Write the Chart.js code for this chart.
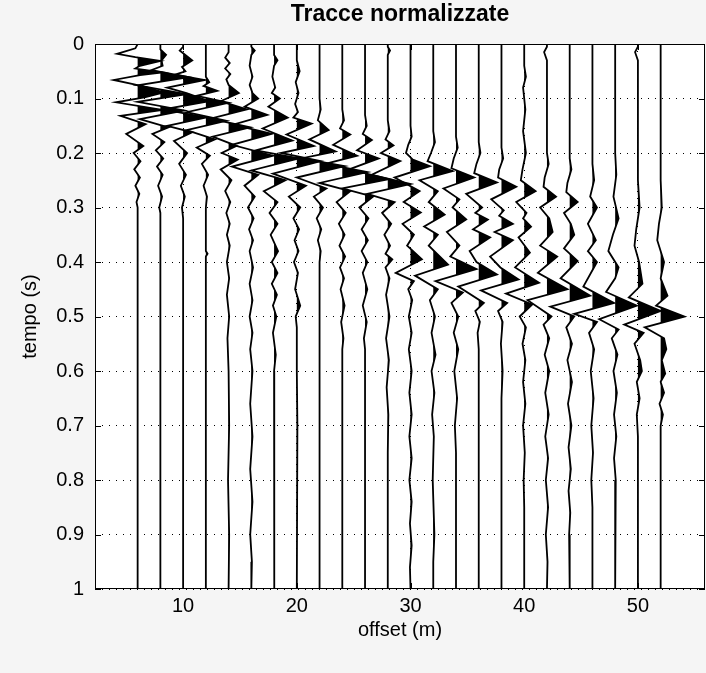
<!DOCTYPE html>
<html>
<head>
<meta charset="utf-8">
<script src="https://cdn.jsdelivr.net/npm/chart.js@4/dist/chart.umd.min.js"></script>
<style>
  html, body { margin: 0; padding: 0; background: #f5f5f5; }
</style>
</head>
<body>
<canvas id="myChart" width="706" height="673"></canvas>
<script>
'use strict';

// offsets of the traces (m)
var offsets = [6, 8, 10, 12, 14, 16, 18, 20, 22, 24, 26, 28, 30, 32, 34, 36, 38, 40, 42, 44, 46, 48, 50, 52];

var xTicks = [10, 20, 30, 40, 50];
var yTicks = [0, 0.1, 0.2, 0.3, 0.4, 0.5, 0.6, 0.7, 0.8, 0.9, 1];
var yTickLabels = ['0', '0.1', '0.2', '0.3', '0.4', '0.5', '0.6', '0.7', '0.8', '0.9', '1'];

// each trace: [tempo (s), normalized amplitude (m of offset)]
var tr06 = [[0,0],[0.008,-0.2],[0.018,-1.8],[0.024,-0.2],[0.031,2.0],[0.04,0.2],[0.045,-0.2],[0.052,2.2],[0.057,0.2],[0.066,-2.1],[0.074,-0.3],[0.08,0.9],[0.089,2.3],[0.098,0.6],[0.107,-1.9],[0.121,2.2],[0.132,-1.5],[0.147,0.7],[0.165,-1.0],[0.187,0.5],[0.2,-0.35],[0.215,0.25],[0.23,-0.3],[0.245,0.2],[0.26,-0.2],[0.275,0.15],[0.29,-0.1],[0.3,0],[1,0]];
var tr08 = [[0,0],[0.01,0],[0.02,0.5],[0.03,0.1],[0.04,0.2],[0.048,-0.8],[0.061,2.5],[0.076,-2.0],[0.092,2.3],[0.106,-2.0],[0.122,2.1],[0.138,-1.8],[0.153,0.7],[0.165,-0.7],[0.18,0.35],[0.195,-0.4],[0.21,0.25],[0.225,-0.3],[0.24,0.2],[0.26,-0.2],[0.28,0.15],[0.3,-0.1],[0.31,0],[1,0]];
var tr10 = [[0,0],[0.005,0],[0.012,-0.3],[0.03,0.8],[0.042,-0.1],[0.05,0.2],[0.056,-0.7],[0.066,1.9],[0.08,-1.4],[0.09,0.3],[0.105,2.3],[0.12,-1.7],[0.135,2.0],[0.15,-1.4],[0.162,0.8],[0.178,-0.8],[0.2,0.35],[0.22,-0.35],[0.24,0.25],[0.26,-0.2],[0.28,0.15],[0.3,-0.1],[0.32,0],[1,0]];
var tr12 = [[0,0],[0.06,0],[0.07,0.3],[0.077,-0.2],[0.086,1.0],[0.095,-0.8],[0.108,2.0],[0.125,-1.7],[0.141,1.8],[0.158,-1.7],[0.175,0.8],[0.19,-0.8],[0.205,0.35],[0.22,-0.35],[0.24,0.2],[0.26,-0.2],[0.28,0.1],[0.3,0],[0.38,0],[0.385,0.15],[0.39,0],[1,0]];
var tr14 = [[0,0],[0.015,0],[0.025,-0.3],[0.035,0.1],[0.045,-0.3],[0.055,0.15],[0.065,-0.2],[0.075,0],[0.09,0.9],[0.105,-0.7],[0.12,1.6],[0.137,-1.6],[0.153,1.9],[0.17,-1.4],[0.187,0.7],[0.2,-0.6],[0.212,0.8],[0.23,-0.7],[0.25,0.25],[0.27,-0.3],[0.29,0.15],[0.31,-0.2],[0.33,0.1],[0.35,-0.15],[0.37,0.1],[0.4,-0.15],[0.43,0.05],[0.46,-0.15],[0.5,0.05],[0.54,-0.1],[0.6,0],[0.7,0.05],[0.8,-0.05],[0.9,0.05],[1,0]];
var tr16 = [[0,0],[0.005,0],[0.012,0.3],[0.02,0],[0.04,-0.15],[0.06,0.1],[0.075,-0.15],[0.09,0.1],[0.1,0.6],[0.115,-0.6],[0.13,1.4],[0.148,-1.6],[0.165,1.8],[0.185,-1.7],[0.205,1.9],[0.225,-1.7],[0.24,0.6],[0.26,-0.6],[0.28,0.3],[0.3,-0.3],[0.32,0.2],[0.34,-0.2],[0.36,0.15],[0.38,-0.15],[0.41,0.15],[0.44,-0.15],[0.47,0.1],[0.5,-0.15],[0.53,0.1],[0.56,-0.1],[0.6,0.1],[0.66,-0.1],[0.72,0.1],[0.78,-0.1],[0.84,0.1],[0.9,-0.1],[0.95,0.05],[1,0]];
var tr18 = [[0,0],[0.02,0],[0.03,0.3],[0.04,0],[0.06,-0.15],[0.08,0.1],[0.09,-0.2],[0.1,0.5],[0.115,-0.5],[0.135,1.2],[0.155,-1.0],[0.177,1.6],[0.195,-1.6],[0.21,2.2],[0.232,-2.0],[0.25,1.0],[0.27,-0.9],[0.29,0.3],[0.31,-0.4],[0.33,0.3],[0.35,-0.3],[0.38,0.35],[0.4,-0.2],[0.42,0.3],[0.44,-0.2],[0.46,0.25],[0.48,-0.1],[0.5,0.2],[0.53,-0.1],[0.57,0.15],[0.6,0],[0.7,0.05],[0.8,0],[1,0]];
var tr20 = [[0,0],[0.03,0],[0.05,0.25],[0.07,-0.1],[0.09,0.15],[0.11,-0.15],[0.125,0.1],[0.135,-0.3],[0.146,1.3],[0.166,-0.9],[0.187,1.5],[0.2,-1.4],[0.215,2.1],[0.238,-2.1],[0.26,0.8],[0.28,-0.7],[0.3,0.3],[0.32,-0.3],[0.34,0.2],[0.36,-0.2],[0.38,0.15],[0.4,-0.25],[0.42,0.1],[0.45,-0.15],[0.48,0.3],[0.5,-0.1],[0.52,0],[0.6,0],[0.7,0.05],[1,0]];
var tr22 = [[0,0],[0.1,0],[0.12,0.1],[0.14,-0.15],[0.158,0.8],[0.175,-0.9],[0.197,1.4],[0.21,-1.6],[0.224,2.2],[0.245,-2.0],[0.265,0.6],[0.28,-0.5],[0.3,0.3],[0.32,-0.25],[0.34,0.15],[0.36,-0.15],[0.38,0.1],[0.4,0],[1,0]];
var tr24 = [[0,0],[0.12,0],[0.14,0.15],[0.155,-0.2],[0.166,0.7],[0.185,-0.8],[0.205,1.3],[0.22,-1.5],[0.235,2.2],[0.255,-2.0],[0.27,0.7],[0.29,-0.5],[0.31,0.3],[0.33,-0.3],[0.35,0.2],[0.37,-0.25],[0.39,0.25],[0.41,-0.2],[0.43,0.15],[0.45,-0.15],[0.48,0.2],[0.51,-0.1],[0.54,0.1],[0.56,0],[1,0]];
var tr26 = [[0,0],[0.13,0],[0.15,0.15],[0.165,-0.2],[0.176,0.6],[0.195,-0.7],[0.21,1.2],[0.23,-1.4],[0.248,2.1],[0.265,-2.0],[0.28,0.7],[0.3,-0.5],[0.32,0.3],[0.34,-0.3],[0.36,0.25],[0.38,-0.3],[0.4,0.2],[0.42,-0.2],[0.45,0.2],[0.48,-0.2],[0.51,0.15],[0.54,-0.1],[0.56,0],[1,0]];
var tr28 = [[0,0],[0.005,0],[0.012,0.2],[0.02,0],[0.14,0],[0.16,0.15],[0.175,-0.2],[0.186,0.5],[0.2,-0.6],[0.215,1.1],[0.24,-1.4],[0.257,2.0],[0.275,-1.8],[0.29,0.6],[0.31,-0.5],[0.33,0.3],[0.35,-0.3],[0.37,0.2],[0.385,-0.2],[0.395,0.4],[0.41,-0.2],[0.43,0.15],[0.46,-0.15],[0.5,0.15],[0.54,-0.15],[0.58,0.1],[0.63,-0.1],[0.68,0.05],[0.75,0],[1,0]];
var tr30 = [[0,0],[0.15,0],[0.17,0.1],[0.185,-0.2],[0.2,-0.4],[0.212,0.2],[0.224,1.7],[0.245,-1.4],[0.27,0.8],[0.29,-0.6],[0.309,0.9],[0.33,-0.7],[0.35,0.3],[0.37,-0.3],[0.395,1.0],[0.42,-1.3],[0.435,0.3],[0.45,-0.2],[0.47,0.15],[0.5,-0.15],[0.53,0.1],[0.56,-0.15],[0.6,0.1],[0.64,-0.1],[0.68,0.1],[0.72,-0.1],[0.76,0.1],[0.8,-0.1],[0.84,0.1],[0.88,-0.05],[0.92,0.1],[0.96,-0.05],[1,0]];
var tr32 = [[0,0],[0.16,0],[0.18,0.15],[0.2,-0.2],[0.215,-0.5],[0.233,1.7],[0.25,-1.2],[0.27,0.4],[0.29,-0.4],[0.313,1.0],[0.335,-0.8],[0.35,0.4],[0.37,-0.4],[0.405,1.3],[0.425,-1.6],[0.45,0.4],[0.47,-0.3],[0.5,0.15],[0.53,-0.15],[0.57,0.2],[0.6,-0.15],[0.64,0.1],[0.68,-0.1],[0.72,0.05],[0.8,-0.05],[0.9,0.1],[0.95,0],[1,0]];
var tr34 = [[0,0],[0.17,0],[0.19,0.15],[0.21,-0.2],[0.228,-0.4],[0.245,1.6],[0.265,-1.1],[0.285,0.3],[0.3,-0.3],[0.322,0.9],[0.345,-0.8],[0.37,0.3],[0.39,-0.5],[0.413,1.8],[0.435,-1.8],[0.456,0.6],[0.475,-0.4],[0.5,0.2],[0.53,-0.2],[0.56,0.2],[0.6,-0.15],[0.65,0.1],[0.7,-0.1],[0.75,0],[1,0]];
var tr36 = [[0,0],[0.18,0],[0.2,0.15],[0.22,-0.2],[0.237,-0.4],[0.254,1.6],[0.275,-1.1],[0.3,0.3],[0.31,-0.3],[0.322,0.8],[0.34,-0.5],[0.355,1.0],[0.38,-0.8],[0.4,-0.2],[0.423,1.6],[0.445,-1.8],[0.475,0.45],[0.49,-0.3],[0.51,0.1],[0.53,-0.1],[0.56,0],[1,0]];
var tr38 = [[0,0],[0.19,0],[0.21,0.15],[0.23,-0.2],[0.245,-0.3],[0.262,1.3],[0.285,-0.9],[0.305,0.2],[0.315,-0.2],[0.33,1.0],[0.345,-0.6],[0.36,1.0],[0.39,-1.0],[0.41,-0.1],[0.432,1.5],[0.452,-1.8],[0.475,0.5],[0.49,-0.3],[0.51,0.1],[0.55,-0.05],[0.6,0.1],[0.65,0],[1,0]];
var tr40 = [[0,0],[0.04,0],[0.06,0.15],[0.08,-0.1],[0.12,0.1],[0.16,-0.1],[0.2,0.15],[0.23,-0.15],[0.25,-0.3],[0.27,1.0],[0.29,-0.7],[0.31,0.2],[0.32,-0.1],[0.335,0.6],[0.355,-0.5],[0.383,0.5],[0.41,-0.8],[0.438,1.3],[0.458,-1.6],[0.478,0.7],[0.5,-0.4],[0.52,0.15],[0.55,-0.15],[0.58,0.1],[0.62,-0.1],[0.66,0.1],[0.7,-0.1],[0.75,0.05],[0.8,-0.05],[0.85,0],[1,0]];
var tr42 = [[0,0],[0.005,0],[0.015,-0.25],[0.03,0],[0.2,0],[0.22,0.15],[0.245,-0.2],[0.262,-0.3],[0.28,0.8],[0.3,-0.6],[0.32,0.2],[0.345,0.5],[0.37,-0.6],[0.39,0.9],[0.42,-0.8],[0.45,1.8],[0.47,-1.7],[0.5,0.4],[0.515,-0.3],[0.54,0.2],[0.57,-0.2],[0.6,0.2],[0.64,-0.15],[0.68,0.15],[0.72,-0.15],[0.76,0.1],[0.8,-0.1],[0.85,0.1],[0.9,-0.1],[0.95,0.05],[1,0]];
var tr44 = [[0,0],[0.21,0],[0.23,0.15],[0.255,-0.2],[0.272,-0.3],[0.29,0.7],[0.31,-0.5],[0.33,0.1],[0.35,0.4],[0.375,-0.5],[0.398,0.7],[0.43,-0.8],[0.462,1.8],[0.482,-1.7],[0.5,0.4],[0.52,-0.3],[0.55,0.2],[0.58,-0.2],[0.62,0.2],[0.66,-0.15],[0.7,0.15],[0.74,-0.1],[0.78,0.1],[0.82,-0.1],[0.86,0.05],[0.9,-0.05],[1,0]];
var tr46 = [[0,0],[0.22,0],[0.25,0.15],[0.28,-0.2],[0.3,0.4],[0.33,-0.4],[0.36,0.3],[0.38,-0.4],[0.4,0.4],[0.445,-0.8],[0.475,1.9],[0.495,-1.6],[0.51,0.4],[0.53,-0.3],[0.56,0.15],[0.6,-0.15],[0.65,0.1],[0.7,-0.1],[0.75,0.05],[0.8,-0.1],[0.85,0],[1,0]];
var tr48 = [[0,0],[0.2,0],[0.24,0.1],[0.28,-0.15],[0.32,0.3],[0.35,-0.2],[0.38,-0.6],[0.41,0.3],[0.43,0],[0.455,-0.8],[0.48,1.9],[0.505,-1.4],[0.524,0.3],[0.54,-0.3],[0.57,0.2],[0.6,-0.15],[0.64,0.15],[0.68,-0.1],[0.72,0.1],[0.76,-0.1],[0.8,0.05],[0.85,0],[1,0]];
var tr50 = [[0,0],[0.005,0],[0.015,-0.25],[0.03,0],[0.25,0],[0.3,0.15],[0.34,-0.15],[0.37,-0.3],[0.4,0.1],[0.44,0.4],[0.465,-0.8],[0.49,2.0],[0.515,-1.2],[0.53,0.5],[0.55,-0.3],[0.58,0.2],[0.6,0.35],[0.62,-0.1],[0.65,0.15],[0.68,-0.1],[0.72,0],[1,0]];
var tr52 = [[0,0],[0.25,0],[0.3,0.1],[0.33,-0.15],[0.36,-0.3],[0.4,0.3],[0.43,0],[0.462,0.6],[0.48,-0.4],[0.5,2.1],[0.52,-1.4],[0.54,0.3],[0.56,0.5],[0.58,0.1],[0.605,0.4],[0.62,0],[0.64,0.3],[0.66,-0.1],[0.68,0.2],[0.7,0],[1,0]];

var traces = [tr06, tr08, tr10, tr12, tr14, tr16, tr18, tr20, tr22, tr24, tr26, tr28,
              tr30, tr32, tr34, tr36, tr38, tr40, tr42, tr44, tr46, tr48, tr50, tr52];

var FONT = '"Liberation Sans", Arial, sans-serif';

function buildDatasets() {
    var datasets = [];
    for (var i = 0; i < traces.length; i++) {
        var off = offsets[i];
        var tr = traces[i];
        var line = [];
        var pos = [];
        for (var k = 0; k < tr.length; k++) {
            var t = tr[k][0], a = tr[k][1];
            if (k > 0) {
                var t0 = tr[k-1][0], a0 = tr[k-1][1];
                // zero crossing so the black lobe starts on the baseline
                if ((a0 > 0 && a < 0) || (a0 < 0 && a > 0)) {
                    pos.push({x: off, y: t0 + (t - t0) * a0 / (a0 - a)});
                }
            }
            line.push({x: off + a, y: t});
            pos.push({x: off + Math.max(a, 0), y: t});
        }
        datasets.push({
            data: pos,
            borderColor: 'rgba(0,0,0,0)',
            borderWidth: 1,
            backgroundColor: '#000',
            pointRadius: 0,
            fill: {value: off}
        });
        datasets.push({
            data: line,
            borderColor: '#000',
            borderWidth: 1.8,
            pointRadius: 0,
            fill: false
        });
    }
    return datasets;
}

var framePlugin = {
    id: 'frame',
    beforeDraw: function (chart) {
        var ctx = chart.ctx, a = chart.chartArea;
        ctx.save();
        ctx.fillStyle = '#f5f5f5';
        ctx.fillRect(0, 0, chart.width, chart.height);
        ctx.fillStyle = '#fff';
        ctx.fillRect(a.left, a.top, a.right - a.left, a.bottom - a.top);
        ctx.restore();
    },
    afterDraw: function (chart) {
        var ctx = chart.ctx, a = chart.chartArea;
        var xs = chart.scales.x, ys = chart.scales.y;
        ctx.save();
        ctx.strokeStyle = '#000';
        ctx.lineWidth = 1;
        ctx.strokeRect(a.left + 0.5, a.top + 0.5, a.right - a.left - 1, a.bottom - a.top - 1);
        ctx.beginPath();
        yTicks.forEach(function (v) {
            var py = Math.round(ys.getPixelForValue(v)) + 0.5;
            ctx.moveTo(a.left, py); ctx.lineTo(a.left + 6, py);
            ctx.moveTo(a.right, py); ctx.lineTo(a.right - 6, py);
        });
        xTicks.forEach(function (v) {
            var px = Math.round(xs.getPixelForValue(v)) + 0.5;
            ctx.moveTo(px, a.bottom); ctx.lineTo(px, a.bottom - 6);
            ctx.moveTo(px, a.top); ctx.lineTo(px, a.top + 6);
        });
        ctx.stroke();
        // title
        ctx.fillStyle = '#000';
        ctx.font = 'bold 23px ' + FONT;
        ctx.textAlign = 'center';
        ctx.textBaseline = 'middle';
        ctx.fillText('Tracce normalizzate', (a.left + a.right) / 2, 15);
        ctx.restore();
    }
};

var config = {
    type: 'line',
    data: {datasets: buildDatasets()},
    options: {
        indexAxis: 'y',
        responsive: false,
        animation: false,
        events: [],
        layout: {padding: {top: 44, right: 1, left: 0, bottom: 0}},
        plugins: {
            legend: {display: false},
            tooltip: {enabled: false}
        },
        scales: {
            x: {
                type: 'linear',
                position: 'bottom',
                min: 2.25,
                max: 55.9,
                afterBuildTicks: function (s) { s.ticks = xTicks.map(function (v) { return {value: v}; }); },
                afterFit: function (s) { s.height = 84; },
                grid: {color: '#000', lineWidth: 1, drawTicks: false},
                border: {display: false, dash: [1, 6]},
                ticks: {
                    autoSkip: false, maxRotation: 0, padding: 5, color: '#000',
                    font: {family: FONT, size: 20},
                    callback: function (v) { return String(v); }
                },
                title: {display: true, text: 'offset (m)', color: '#000',
                        font: {family: FONT, size: 20}, padding: {top: 0, bottom: 31}}
            },
            y: {
                type: 'linear',
                position: 'left',
                reverse: true,
                min: 0,
                max: 1,
                afterBuildTicks: function (s) { s.ticks = yTicks.map(function (v) { return {value: v}; }); },
                afterFit: function (s) { s.width = 95; },
                grid: {color: '#000', lineWidth: 1, drawTicks: false},
                border: {display: false, dash: [1, 6]},
                ticks: {
                    autoSkip: false, padding: 11, color: '#000',
                    font: {family: FONT, size: 20},
                    callback: function (v, i) { return yTickLabels[i]; }
                },
                title: {display: true, text: 'tempo (s)', color: '#000',
                        font: {family: FONT, size: 20}, padding: {top: 18, bottom: 0}}
            }
        }
    },
    plugins: [framePlugin]
};

var ctx = document.getElementById('myChart').getContext('2d');
window.myWiggle = new Chart(ctx, config);
</script>
</body>
</html>
